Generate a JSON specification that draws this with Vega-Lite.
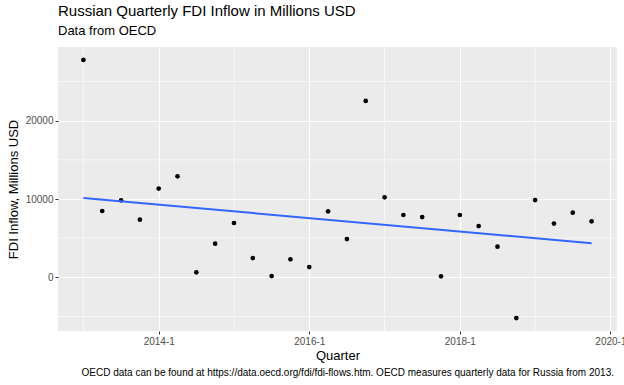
{
  "$schema": "https://vega.github.io/schema/vega-lite/v6.json",
  "width": 559,
  "height": 284,
  "autosize": {"type": "none"},
  "padding": {"left": 58, "top": 47, "right": 7, "bottom": 54},
  "background": "white",
  "config": {
    "font": "Liberation Sans",
    "view": {"fill": "#EBEBEB", "stroke": null},
    "axis": {
      "domain": false,
      "gridColor": "white",
      "gridWidth": 1.1,
      "tickColor": "#333333",
      "tickSize": 3,
      "tickWidth": 1,
      "labelColor": "#4D4D4D",
      "labelFont": "Liberation Sans",
      "labelFontSize": 10,
      "titleFont": "Liberation Sans",
      "titleFontSize": 13,
      "titleFontWeight": "normal",
      "titleColor": "black"
    }
  },
  "title": {
    "text": "Russian Quarterly FDI Inflow in Millions USD",
    "subtitle": "Data from OECD",
    "anchor": "start",
    "frame": "group",
    "font": "Liberation Sans",
    "fontSize": 15,
    "fontWeight": "normal",
    "color": "black",
    "subtitleFont": "Liberation Sans",
    "subtitleFontSize": 13,
    "subtitleColor": "black",
    "subtitlePadding": 6,
    "offset": 9
  },
  "datasets": {
    "fdi": [
      {"quarter": "2013-1", "t": 2013.0, "fdi": 27760},
      {"quarter": "2013-2", "t": 2013.25, "fdi": 8470},
      {"quarter": "2013-3", "t": 2013.5, "fdi": 9830},
      {"quarter": "2013-4", "t": 2013.75, "fdi": 7370},
      {"quarter": "2014-1", "t": 2014.0, "fdi": 11330},
      {"quarter": "2014-2", "t": 2014.25, "fdi": 12900},
      {"quarter": "2014-3", "t": 2014.5, "fdi": 640},
      {"quarter": "2014-4", "t": 2014.75, "fdi": 4300},
      {"quarter": "2015-1", "t": 2015.0, "fdi": 6940},
      {"quarter": "2015-2", "t": 2015.25, "fdi": 2465},
      {"quarter": "2015-3", "t": 2015.5, "fdi": 166},
      {"quarter": "2015-4", "t": 2015.75, "fdi": 2300},
      {"quarter": "2016-1", "t": 2016.0, "fdi": 1315},
      {"quarter": "2016-2", "t": 2016.25, "fdi": 8430},
      {"quarter": "2016-3", "t": 2016.5, "fdi": 4890},
      {"quarter": "2016-4", "t": 2016.75, "fdi": 22520},
      {"quarter": "2017-1", "t": 2017.0, "fdi": 10220},
      {"quarter": "2017-2", "t": 2017.25, "fdi": 7960},
      {"quarter": "2017-3", "t": 2017.5, "fdi": 7700},
      {"quarter": "2017-4", "t": 2017.75, "fdi": 128},
      {"quarter": "2018-1", "t": 2018.0, "fdi": 7960},
      {"quarter": "2018-2", "t": 2018.25, "fdi": 6550},
      {"quarter": "2018-3", "t": 2018.5, "fdi": 3920},
      {"quarter": "2018-4", "t": 2018.75, "fdi": -5200},
      {"quarter": "2019-1", "t": 2019.0, "fdi": 9870},
      {"quarter": "2019-2", "t": 2019.25, "fdi": 6860},
      {"quarter": "2019-3", "t": 2019.5, "fdi": 8260},
      {"quarter": "2019-4", "t": 2019.75, "fdi": 7150}
    ],
    "minorx": [{"t": 2013}, {"t": 2015}, {"t": 2017}, {"t": 2019}],
    "minory": [{"v": -5000}, {"v": 5000}, {"v": 15000}, {"v": 25000}],
    "caption": [{"text": "OECD data can be found at https://data.oecd.org/fdi/fdi-flows.htm. OECD measures quarterly data for Russia from 2013."}]
  },
  "layer": [
    {
      "data": {"name": "minorx"},
      "mark": {"type": "rule", "color": "white", "strokeWidth": 0.55},
      "encoding": {
        "x": {"field": "t", "type": "quantitative", "scale": {"domain": [2012.6625, 2020.0875], "nice": false, "zero": false}}
      }
    },
    {
      "data": {"name": "minory"},
      "mark": {"type": "rule", "color": "white", "strokeWidth": 0.55},
      "encoding": {
        "y": {"field": "v", "type": "quantitative", "scale": {"domain": [-6848, 29408], "nice": false, "zero": false}}
      }
    },
    {
      "data": {"name": "fdi"},
      "mark": {"type": "point", "filled": true, "color": "black", "size": 22, "opacity": 1},
      "encoding": {
        "x": {
          "field": "t", "type": "quantitative",
          "scale": {"domain": [2012.6625, 2020.0875], "nice": false, "zero": false},
          "axis": {
            "values": [2014, 2016, 2018, 2020],
            "labelExpr": "floor(datum.value) + '-' + (round((datum.value - floor(datum.value)) * 4) + 1)",
            "title": "Quarter",
            "labelPadding": 2,
            "titlePadding": 3,
            "labelOverlap": false,
            "labelBound": false,
            "labelFlush": false
          }
        },
        "y": {
          "field": "fdi", "type": "quantitative",
          "scale": {"domain": [-6848, 29408], "nice": false, "zero": false},
          "axis": {
            "values": [0, 10000, 20000],
            "format": "d",
            "title": "FDI Inflow, Millions USD",
            "labelPadding": 2,
            "titlePadding": 5
          }
        }
      }
    },
    {
      "data": {"name": "fdi"},
      "transform": [{"regression": "fdi", "on": "t"}],
      "mark": {"type": "line", "color": "#3366FF", "strokeWidth": 2},
      "encoding": {
        "x": {"field": "t", "type": "quantitative"},
        "y": {"field": "fdi", "type": "quantitative"}
      }
    },
    {
      "data": {"name": "caption"},
      "mark": {"type": "text", "align": "right", "baseline": "alphabetic", "font": "Liberation Sans", "fontSize": 10, "color": "black", "clip": false},
      "encoding": {
        "text": {"field": "text"},
        "x": {"value": {"expr": "width - 3"}},
        "y": {"value": {"expr": "height + 45"}}
      }
    }
  ]
}
